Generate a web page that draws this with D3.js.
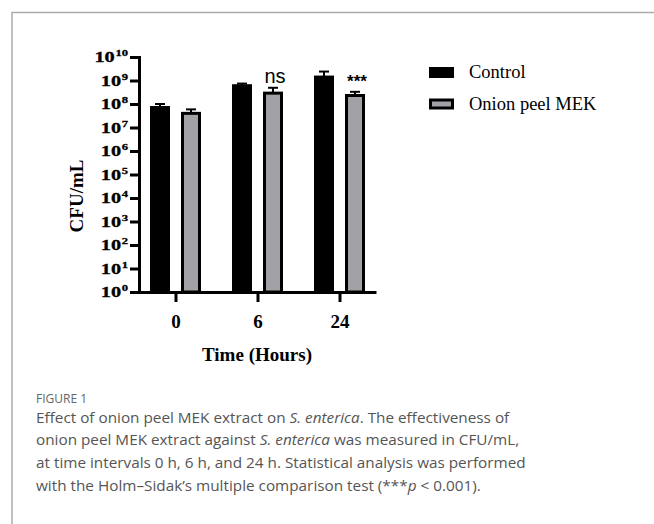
<!DOCTYPE html>
<html>
<head>
<meta charset="utf-8">
<script src="https://cdn.jsdelivr.net/npm/d3@7"></script>
<style>
  body { margin: 0; background: #fff; }
  svg { display: block; }
</style>
</head>
<body>
<div id="field"></div>
<script>
'use strict';

// data
const times = ['0', '6', '24'];
const series = ['Control', 'Onion peel MEK'];
const control = [7.1e7, 6.0e8, 1.4e9];
const controlSD = [2.9e7, 1.4e8, 1.0e9];
const onion = [4.0e7, 2.9e8, 2.3e8];
const onionSD = [1.9e7, 2.0e8, 1.0e8];
const signif = ['', 'ns', '***'];
const yExponents = [0, 1, 2, 3, 4, 5, 6, 7, 8, 9, 10];
const caption = [
  [['Effect of onion peel MEK extract on ', 0], ['S. enterica', 1], ['. The effectiveness of', 0]],
  [['onion peel MEK extract against ', 0], ['S. enterica', 1], [' was measured in CFU/mL,', 0]],
  [['at time intervals 0 h, 6 h, and 24 h. Statistical analysis was performed', 0]],
  [['with the Holm\u2013Sidak\u2019s multiple comparison test (***', 0], ['p', 1], [' < 0.001).', 0]]
];

const W = 654, H = 524;
const svg = d3.select('#field').append('svg').attr('width', W).attr('height', H);

// frame of the figure box
svg.append('path')
  .attr('d', 'M12,524 V12.5 H654')
  .attr('fill', 'none')
  .attr('stroke', '#aaa')
  .attr('stroke-width', 1.5);

const serif = '"Liberation Serif", "Times New Roman", serif';
const sans = '"Liberation Sans", Arial, sans-serif';

const y = d3.scaleLog().domain([1, 1e10]).range([292, 57]);
const x = d3.scalePoint().domain(times).range([139, 376]).padding(0.445);
const x1 = d3.scaleBand().domain(series).range([-25.5, 25.5]).paddingInner(0.355).paddingOuter(0);

const rows = times.map((t, i) => ({
  t: t,
  vals: [
    {s: series[0], v: control[i], sd: controlSD[i], fill: '#000'},
    {s: series[1], v: onion[i], sd: onionSD[i], fill: '#a2a2a6'}
  ],
  sig: signif[i]
}));

// bars
const groups = svg.selectAll('g.grp').data(rows).enter().append('g')
  .attr('class', 'grp')
  .attr('transform', d => 'translate(' + x(d.t) + ',0)');

const bar = groups.selectAll('g.bar').data(d => d.vals).enter().append('g').attr('class', 'bar');

// error bars (upper only)
bar.append('line')
  .attr('x1', d => x1(d.s) + x1.bandwidth() / 2)
  .attr('x2', d => x1(d.s) + x1.bandwidth() / 2)
  .attr('y1', d => y(d.v))
  .attr('y2', d => y(d.v + d.sd))
  .attr('stroke', '#000')
  .attr('stroke-width', 2);
bar.append('line')
  .attr('x1', d => x1(d.s) + x1.bandwidth() / 2 - 5)
  .attr('x2', d => x1(d.s) + x1.bandwidth() / 2 + 5)
  .attr('y1', d => y(d.v + d.sd))
  .attr('y2', d => y(d.v + d.sd))
  .attr('stroke', '#000')
  .attr('stroke-width', 2);

bar.append('rect')
  .attr('x', d => x1(d.s) + 1.5)
  .attr('width', x1.bandwidth() - 3)
  .attr('y', d => y(d.v))
  .attr('height', d => y(1) - y(d.v))
  .attr('fill', d => d.fill)
  .attr('stroke', '#000')
  .attr('stroke-width', 3);

// significance marks above the onion bar
groups.append('text')
  .attr('x', d => x1(series[1]) + x1.bandwidth() / 2 + 2)
  .attr('y', d => y(d.vals[1].v + d.vals[1].sd) - 5)
  .attr('text-anchor', 'middle')
  .attr('font-family', sans)
  .attr('font-size', d => d.sig === 'ns' ? '20px' : '17px')
  .attr('font-weight', d => d.sig === 'ns' ? 'normal' : 'bold')
  .attr('fill', '#000')
  .text(d => d.sig);

// y axis
const yAxis = svg.append('g')
  .attr('transform', 'translate(139,0)')
  .call(d3.axisLeft(y).tickValues(yExponents.map(e => Math.pow(10, e)))
    .tickSize(9).tickSizeOuter(0).tickFormat(''));
yAxis.selectAll('path, line').attr('stroke', '#000').attr('stroke-width', 3);
yAxis.select('.domain').attr('stroke-linecap', 'square');

const yLab = svg.append('g').selectAll('g').data(yExponents).enter().append('g')
  .attr('transform', e => 'translate(128,' + (y(Math.pow(10, e)) + 5) + ') scale(1.4,1)');
const yTxt = yLab.append('text')
  .attr('text-anchor', 'end')
  .attr('font-family', serif)
  .attr('font-weight', 'bold')
  .attr('font-size', '14.5px')
  .attr('fill', '#000')
  .attr('stroke', '#000')
  .attr('stroke-width', 0.3);
yTxt.append('tspan').text('10');
yTxt.append('tspan').attr('font-size', '9px').attr('dy', -6).attr('dx', 0.5).text(e => e);

svg.append('text')
  .attr('transform', 'translate(83,196) rotate(-90)')
  .attr('text-anchor', 'middle')
  .attr('font-family', serif)
  .attr('font-weight', 'bold')
  .attr('font-size', '19px')
  .text('CFU/mL');

// x axis
const xAxis = svg.append('g')
  .attr('transform', 'translate(0,292)')
  .call(d3.axisBottom(x).tickSize(10).tickSizeOuter(0).tickPadding(13));
xAxis.selectAll('path, line').attr('stroke', '#000').attr('stroke-width', 3);
xAxis.selectAll('text')
  .attr('font-family', serif)
  .attr('font-weight', 'bold')
  .attr('font-size', '19px')
  .attr('fill', '#000');

svg.append('text')
  .attr('x', 257)
  .attr('y', 361)
  .attr('text-anchor', 'middle')
  .attr('font-family', serif)
  .attr('font-weight', 'bold')
  .attr('font-size', '19px')
  .text('Time (Hours)');

// legend
const leg = svg.append('g').selectAll('g').data(series).enter().append('g')
  .attr('transform', (d, i) => 'translate(429,' + (67 + i * 31.5) + ')');
leg.append('rect')
  .attr('x', 1.5).attr('y', 1.5)
  .attr('width', 22).attr('height', 8)
  .attr('fill', (d, i) => i === 0 ? '#000' : '#a2a2a6')
  .attr('stroke', '#000')
  .attr('stroke-width', 3);
leg.append('text')
  .attr('x', 40)
  .attr('y', 11)
  .attr('font-family', serif)
  .attr('font-size', '18.5px')
  .attr('fill', '#000')
  .text(d => d);

// caption
svg.append('text')
  .attr('x', 36)
  .attr('y', 403)
  .attr('font-family', '"Open Sans", sans-serif')
  .attr('font-size', '12px')
  .attr('fill', '#666')
  .text('FIGURE 1');

const cap = svg.append('g').selectAll('text').data(caption).enter().append('text')
  .attr('x', 36)
  .attr('y', (d, i) => 422.5 + i * 22.8)
  .attr('font-family', '"Open Sans", sans-serif')
  .attr('font-size', '15.3px')
  .attr('fill', '#555');
cap.selectAll('tspan').data(d => d).enter().append('tspan')
  .attr('font-style', d => d[1] ? 'italic' : 'normal')
  .text(d => d[0]);
</script>
</body>
</html>
